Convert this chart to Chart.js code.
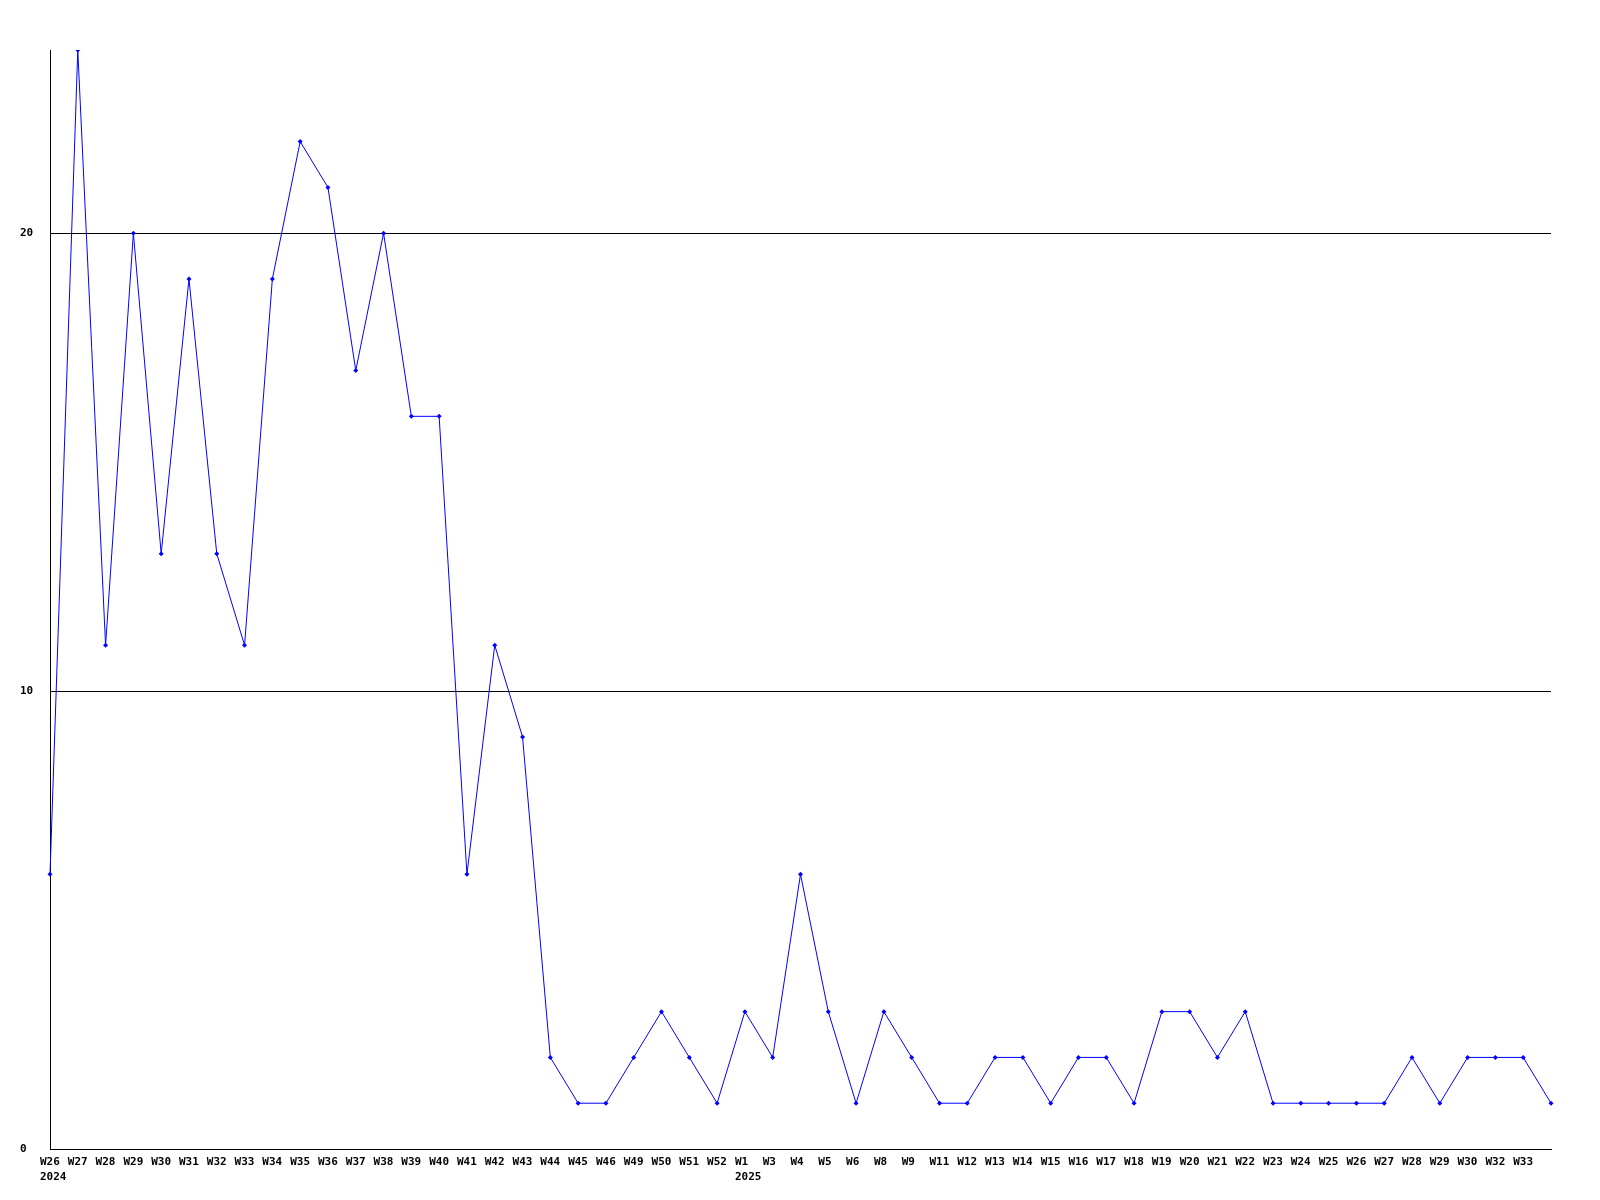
<!DOCTYPE html>
<html>
<head>
<meta charset="utf-8">
<script src="https://cdn.jsdelivr.net/npm/chart.js@4/dist/chart.umd.min.js"></script>
<style>
html,body{margin:0;padding:0;background:#fff;}
#wrap{width:1600px;height:1200px;}
</style>
</head>
<body>
<div id="wrap"><canvas id="c" width="1600" height="1200"></canvas></div>
<script>
const weeks = ["W26","W27","W28","W29","W30","W31","W32","W33","W34","W35","W36","W37","W38","W39","W40","W41","W42","W43","W44","W45","W46","W49","W50","W51","W52",
  "W1","W3","W4","W5","W6","W8","W9","W11","W12","W13","W14","W15","W16","W17","W18","W19","W20","W21","W22","W23","W24","W25","W26","W27","W28","W29","W30","W32","W33","W34"];
const yearLabels = {0:"2024", 25:"2025"};
const values = [6,24,11,20,13,19,13,11,19,22,21,17,20,16,16,6,11,9,2,1,1,2,3,2,1,
  3,2,6,3,1,3,2,1,1,2,2,1,2,2,1,3,3,2,3,1,1,1,1,1,2,1,2,2,2,1];
const yTicks = [0,10,20];
const yMax = 24;

const labels = weeks.map((w,i)=> yearLabels[i] ? [w, yearLabels[i]] : w);
const font = {family:"'DejaVu Sans Mono', monospace", size:11, weight:'bold', lineHeight:1.4};

new Chart(document.getElementById('c'), {
  type:'line',
  data:{labels:labels, datasets:[{
    data:values,
    borderColor:'#0000ff',
    backgroundColor:'#0000ff',
    borderWidth:1,
    pointStyle:'rectRot',
    pointRadius:2.5,
    pointBorderWidth:0,
    tension:0,
    fill:false
  }]},
  options:{
    responsive:false,
    animation:false,
    devicePixelRatio:1,
    layout:{padding:{left:20,right:49,top:50,bottom:0}},
    plugins:{legend:{display:false},tooltip:{enabled:false}},
    scales:{
      x:{
        type:'category',
        offset:false,
        grid:{display:false, drawTicks:false},
        border:{display:true,color:'#000',width:1},
        ticks:{color:'#000',font:font,autoSkip:false,maxRotation:0,padding:5,align:'start',labelOffset:-10,
          callback:function(v,i){ return i===weeks.length-1 ? '' : this.getLabelForValue(v); }},
        afterFit:function(s){ s.height = 51; }
      },
      y:{
        min:0,max:yMax,
        grid:{color:'#000',lineWidth:1,drawTicks:false},
        border:{display:true,color:'#000',width:1},
        ticks:{color:'#000',font:{family:"'DejaVu Sans Mono', monospace", size:11, weight:'bold'},padding:16,crossAlign:'far'},
        afterBuildTicks:function(s){ s.ticks = yTicks.map(v=>({value:v})); },
        afterFit:function(s){ s.width = 30; }
      }
    }
  }
});
</script>
</body>
</html>
